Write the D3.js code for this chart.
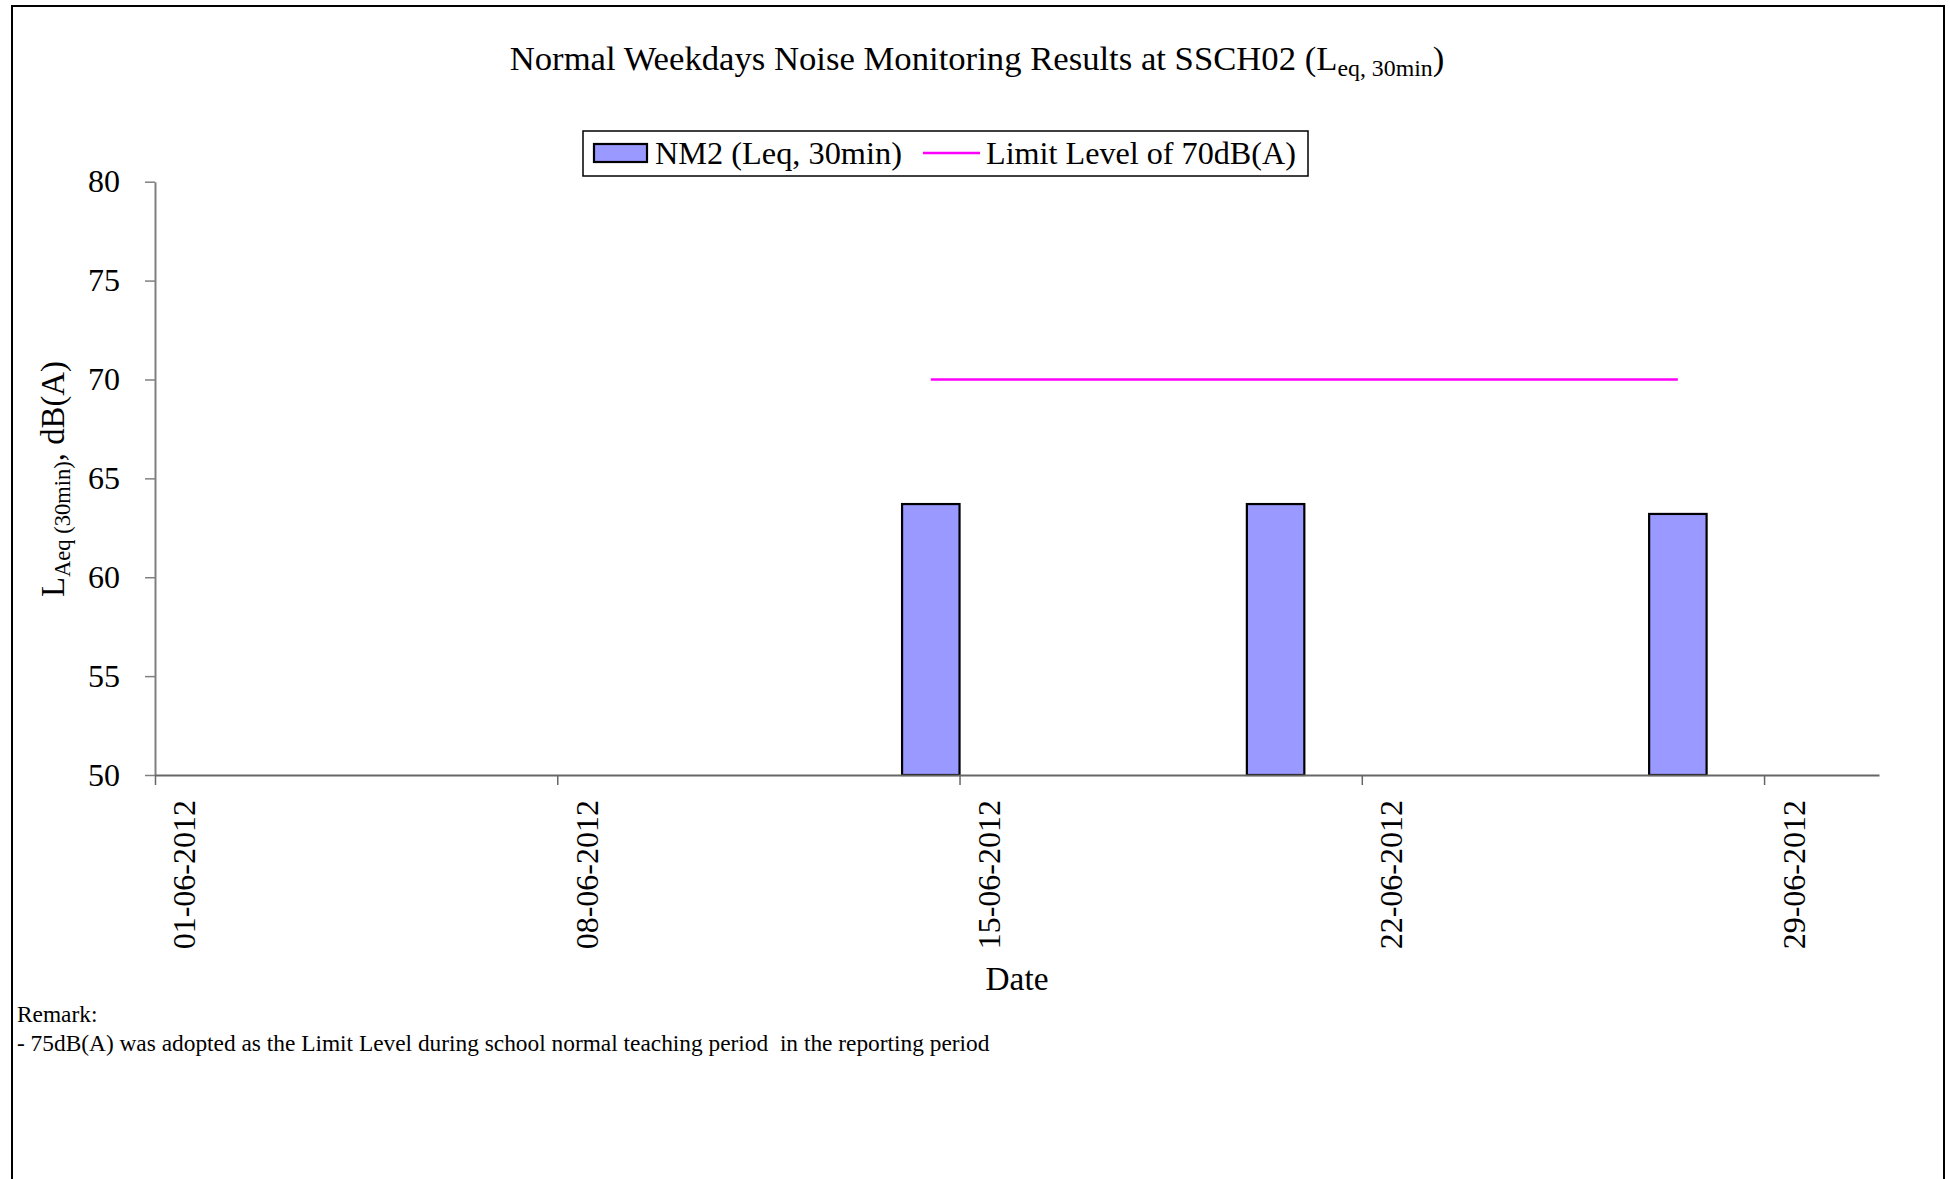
<!DOCTYPE html>
<html>
<head>
<meta charset="utf-8">
<script src="https://cdn.jsdelivr.net/npm/d3@7"></script>
<style>
  html, body { margin: 0; padding: 0; background: #fff; }
  svg { display: block; }
  text { font-family: "Palatino Linotype", "Book Antiqua", Palatino, "Liberation Serif", serif; fill: #000; }
</style>
</head>
<body>
<svg id="chart" width="1950" height="1179"></svg>
<script>
// ---- data ----
const dates = ["2012-06-14", "2012-06-20", "2012-06-27"];
const nm2Values = [63.7, 63.7, 63.2];
const limitValues = [70, 70, 70];
const yTicks = [50, 55, 60, 65, 70, 75, 80];
const xTickDates = ["2012-06-01", "2012-06-08", "2012-06-15", "2012-06-22", "2012-06-29"];
const xDomain = ["2012-06-01", "2012-07-01"];

const titleMain = "Normal Weekdays Noise Monitoring Results at SSCH02 (L";
const titleSub = "eq, 30min";
const legendLabels = ["NM2 (Leq, 30min)", "Limit Level of 70dB(A)"];
const remarkLines = ["Remark:", "- 75dB(A) was adopted as the Limit Level during school normal teaching period\u00a0 in the reporting period"];

// ---- helpers ----
// scale a text (and its tspans) so its rendered width matches a target width
function fitWidth(sel, target) {
  const node = sel.node();
  const w = node.getBBox().width;
  const k = target / w;
  const all = [node, ...node.querySelectorAll("tspan")];
  all.forEach(n => {
    const fs = parseFloat(n.style.fontSize);
    if (!isNaN(fs)) n.style.fontSize = (fs * k) + "px";
  });
}

// ---- layout ----
const svg = d3.select("#chart");
const L = 155, R = 1879, T = 181.7, B = 775;
const parse = d3.utcParse("%Y-%m-%d");
const fmt = d3.utcFormat("%d-%m-%Y");
const DAY = 864e5;

const x = d3.scaleUtc().domain(xDomain.map(parse)).range([L, R]);
const y = d3.scaleLinear().domain([50, 80]).range([B, T]);

// outer border
svg.append("rect").attr("x", 12).attr("y", 6).attr("width", 1932).attr("height", 1200)
  .attr("fill", "none").attr("stroke", "#000").attr("stroke-width", 2);

// title
const title = svg.append("text").attr("x", 977).attr("y", 70).attr("text-anchor", "middle")
  .style("font-size", "32px");
title.append("tspan").style("font-size", "32px").text(titleMain);
title.append("tspan").attr("baseline-shift", "-25%").style("font-size", "22px").text(titleSub);
title.append("tspan").style("font-size", "32px").text(")");
fitWidth(title, 935);

// bars
const data = dates.map((d, i) => ({ date: parse(d), v: nm2Values[i], lim: limitValues[i] }));
svg.append("g").selectAll("rect").data(data).join("rect")
  .attr("x", d => x(d.date))
  .attr("width", d => x(new Date(+d.date + DAY)) - x(d.date))
  .attr("y", d => y(d.v))
  .attr("height", d => y(50) - y(d.v))
  .attr("fill", "#9999FF").attr("stroke", "#000").attr("stroke-width", 2.2);

// limit line
const line = d3.line().x(d => x(new Date(+d.date + DAY / 2))).y(d => y(d.lim));
svg.append("path").datum(data).attr("d", line)
  .attr("fill", "none").attr("stroke", "#FF00FF").attr("stroke-width", 2.5);

// y axis
const yAxis = svg.append("g").attr("transform", `translate(${L},0)`)
  .call(d3.axisLeft(y).tickValues(yTicks).tickSize(10).tickPadding(25).tickSizeOuter(0));
yAxis.select(".domain").attr("stroke", "#808080").attr("stroke-width", 2);
yAxis.selectAll(".tick line").attr("stroke", "#808080").attr("stroke-width", 1.5);
yAxis.selectAll(".tick text").style("font-size", "32px").style("font-family", null);

// x axis
const xAxis = svg.append("g").attr("transform", `translate(0,${B})`)
  .call(d3.axisBottom(x).tickValues(xTickDates.map(parse)).tickSize(10).tickSizeOuter(0).tickFormat(fmt));
xAxis.select(".domain").attr("stroke", "#666").attr("stroke-width", 2);
xAxis.selectAll(".tick line").attr("stroke", "#666").attr("stroke-width", 1.5);
const dayW = x(parse("2012-06-02")) - x(parse("2012-06-01"));
xAxis.selectAll(".tick text")
  .attr("transform", `translate(${dayW / 2},25) rotate(-90)`)
  .attr("x", 0).attr("y", 0).attr("dy", "0.35em")
  .attr("text-anchor", "end")
  .style("font-size", "32px").style("font-family", null);

// axis titles
const dateT = svg.append("text").attr("x", (L + R) / 2).attr("y", 990).attr("text-anchor", "middle")
  .style("font-size", "32px").text("Date");
fitWidth(dateT, 63);
const yt = svg.append("text").attr("transform", "translate(64,479) rotate(-90)")
  .attr("text-anchor", "middle").style("font-size", "32px");
yt.append("tspan").style("font-size", "32px").text("L");
yt.append("tspan").attr("baseline-shift", "-25%").style("font-size", "22px").text("Aeq (30min)");
yt.append("tspan").style("font-size", "32px").text(", dB(A)");
fitWidth(yt, 236);

// legend
const lg = svg.append("g");
lg.append("rect").attr("x", 583).attr("y", 131).attr("width", 725).attr("height", 45)
  .attr("fill", "#fff").attr("stroke", "#000").attr("stroke-width", 1.5);
lg.append("rect").attr("x", 594).attr("y", 144).attr("width", 53).attr("height", 18)
  .attr("fill", "#9999FF").attr("stroke", "#000").attr("stroke-width", 2.2);
const lt1 = lg.append("text").attr("x", 655).attr("y", 164).style("font-size", "32px").text(legendLabels[0]);
fitWidth(lt1, 247);
lg.append("line").attr("x1", 923).attr("x2", 980).attr("y1", 153).attr("y2", 153)
  .attr("stroke", "#FF00FF").attr("stroke-width", 2.5);
const lt2 = lg.append("text").attr("x", 986).attr("y", 164).style("font-size", "32px").text(legendLabels[1]);
fitWidth(lt2, 310);

// remarks
const rem = svg.append("g").selectAll("text").data(remarkLines).join("text")
  .attr("x", 17).attr("y", (d, i) => 1022 + i * 29)
  .style("font-size", "20px").text(d => d);
fitWidth(d3.select(rem.nodes()[1]), 973);
d3.select(rem.nodes()[0]).style("font-size", rem.nodes()[1].style.fontSize);
</script>
</body>
</html>
